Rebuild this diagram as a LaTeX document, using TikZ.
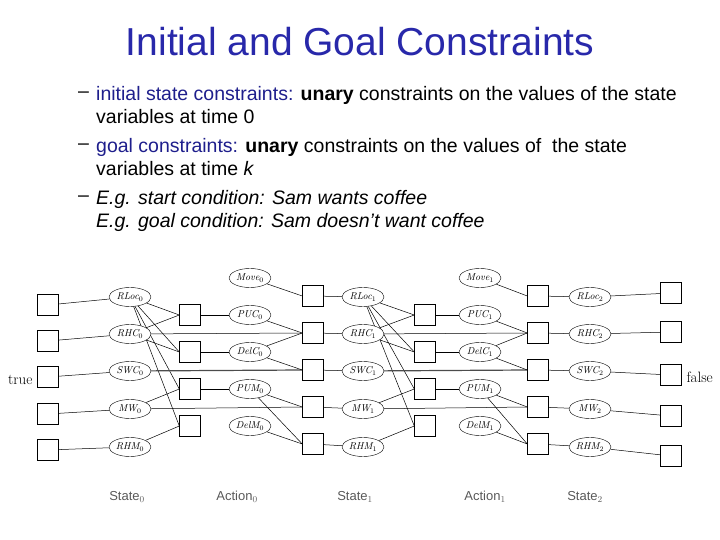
\documentclass[tikz,border=0pt]{standalone}
\usepackage{fontspec}
\setmainfont{Liberation Sans}
\newfontfamily\lmser{Latin Modern Roman}
\usetikzlibrary{shapes.geometric}
\pgfdeclarelayer{bg}
\pgfsetlayers{bg,main}
\definecolor{titleblue}{RGB}{40,40,170}
\definecolor{txtblue}{RGB}{30,30,140}
\tikzset{
 sq/.style={draw,fill=white,minimum size=21pt,inner sep=0pt},
 el/.style={draw,ellipse,fill=white,minimum width=42pt,minimum height=19pt,inner sep=0pt,font=\lmser\itshape\fontsize{10}{11}\selectfont},
 ln/.style={draw,line width=0.5pt},
 bot/.style={font=\fontsize{13}{14}\selectfont,text=gray!70!black},
 body/.style={anchor=west,font=\fontsize{19.5}{22}\selectfont,inner sep=0pt}
}
\begin{document}
\begin{tikzpicture}[x=1pt,y=-1pt]
\useasboundingbox (0,0) rectangle (720,540);
\node[font=\fontsize{39}{42}\selectfont,text=titleblue] (title) at (360,42) {Initial and Goal Constraints};
\node[body] (d1) at (78,95) {--};
\node[body] (t1) at (96,95) {\textcolor{txtblue}{initial state constraints:} \textbf{unary} constraints on the values of the state};
\node[body] (t1b) at (96,117) {variables at time 0};
\node[body] (d2) at (78,147) {--};
\node[body] (t2) at (96,147) {\textcolor{txtblue}{goal constraints:} \textbf{unary} constraints on the values of\ \ the state};
\node[body] (t2b) at (96,169) {variables at time \textit{k}};
\node[body] (d3) at (78,199) {--};
\node[body] (t3) at (96,199) {\textit{E.g. start condition: Sam wants coffee}};
\node[body] (t3b) at (96,222) {\textit{E.g. goal condition: Sam doesn't want coffee}};
\foreach \i/\y in {1/305,2/341,3/377,4/414,5/450} \node[sq] (L\i) at (48,\y) {};
\foreach \i/\y in {1/293,2/332,3/375,4/416,5/456} \node[sq] (R\i) at (671,\y) {};
\foreach \c/\x in {0/130,1/363,2/590}{
 \node[el] (RLoc\c) at (\x,297) {RLoc$_\c$};
 \node[el] (RHC\c) at (\x,334) {RHC$_\c$};
 \node[el] (SWC\c) at (\x,371) {SWC$_\c$};
 \node[el] (MW\c) at (\x,409) {MW$_\c$};
 \node[el] (RHM\c) at (\x,447) {RHM$_\c$};
}
\foreach \c/\x in {0/250,1/480}{
 \node[el] (Move\c) at (\x,278) {Move$_\c$};
 \node[el] (PUC\c) at (\x,315) {PUC$_\c$};
 \node[el] (DelC\c) at (\x,352) {DelC$_\c$};
 \node[el] (PUM\c) at (\x,389) {PUM$_\c$};
 \node[el] (DelM\c) at (\x,426) {DelM$_\c$};
}
\foreach \c/\x in {0/190,1/425}{
 \foreach \i/\y in {1/315,2/352,3/389,4/426} \node[sq] (P\c\i) at (\x,\y) {};
}
\foreach \c/\x in {0/313,1/538}{
 \foreach \i/\y in {1/296,2/333,3/370,4/407,5/444} \node[sq] (Q\c\i) at (\x,\y) {};
}
\begin{pgfonlayer}{bg}
\foreach \c/\n in {0/1,1/2}{
 \path[ln] (RLoc\c) -- (P\c1.west) (RLoc\c) -- (P\c2.west) (RLoc\c) -- (P\c3.west) (RLoc\c) -- (P\c4.west);
 \path[ln] (RHC\c) -- (P\c1.west) (RHC\c) -- (P\c2.west) (RHC\c) -- (Q\c2.west);
 \path[draw,line width=1.2pt,gray!60!black] (SWC\c) -- (Q\c3.west);
 \path[ln] (MW\c) -- (P\c3.west) (MW\c) -- (Q\c4.west) (RHM\c) -- (P\c4.west);
 \path[ln] (P\c1) -- (PUC\c) (P\c2) -- (DelC\c) (P\c3) -- (PUM\c);
 \path[ln] (Move\c) -- (Q\c1.west) (PUC\c) -- (Q\c2.west) (DelC\c) -- (Q\c2.west) (DelC\c) -- (Q\c3.west);
 \path[ln] (PUM\c) -- (Q\c4.west) (PUM\c) -- (Q\c5.west) (DelM\c) -- (Q\c5.west);
 \path[ln] (Q\c1) -- (RLoc\n) (Q\c2) -- (RHC\n) (Q\c3) -- (SWC\n) (Q\c4) -- (MW\n) (Q\c5) -- (RHM\n);
}
\path[ln] (L1) -- (RLoc0) (L2) -- (RHC0) (L3) -- (SWC0) (L4) -- (MW0) (L5) -- (RHM0);
\path[ln] (R1) -- (RLoc2) (R2) -- (RHC2) (R3) -- (SWC2) (R4) -- (MW2) (R5) -- (RHM2);
\end{pgfonlayer}
\node[font=\lmser\fontsize{15}{17}\selectfont,anchor=east] (true) at (36,380) {true};
\node[font=\lmser\fontsize{15}{17}\selectfont,anchor=west] (false) at (683,377) {false};
\node[bot] (s0) at (127,497) {State$_0$};
\node[bot] (a0) at (237,497) {Action$_0$};
\node[bot] (s1) at (355,497) {State$_1$};
\node[bot] (a1) at (485,497) {Action$_1$};
\node[bot] (s2) at (585,497) {State$_2$};
\end{tikzpicture}
\end{document}
